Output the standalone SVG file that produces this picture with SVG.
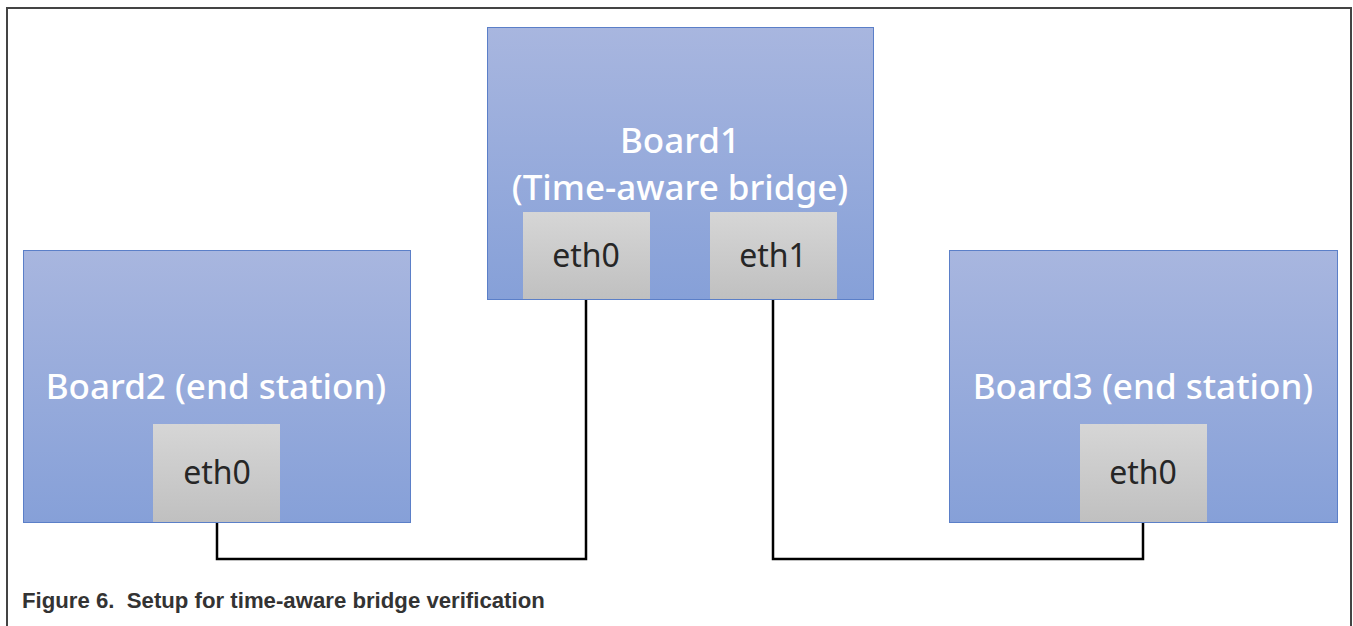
<svg xmlns="http://www.w3.org/2000/svg" width="1353" height="626" viewBox="0 0 1353 626">
<defs>
<linearGradient id="gb" x1="0" y1="0" x2="0" y2="1"><stop offset="0" stop-color="#a8b6df"/><stop offset="1" stop-color="#86a0d8"/></linearGradient>
<linearGradient id="gp" x1="0" y1="0" x2="0" y2="1"><stop offset="0" stop-color="#d6d6d6"/><stop offset="1" stop-color="#c0c0c0"/></linearGradient>
<style>
.board{fill:url(#gb);stroke:#5b7fc8;stroke-width:1}
.port{fill:url(#gp);stroke:none}
.bt{font-family:"Noto Sans","Open Sans",sans-serif;font-size:35px;font-weight:500;fill:#ffffff;text-anchor:middle}
.pt{font-family:"Noto Sans","Open Sans",sans-serif;font-size:32px;fill:#262626;text-anchor:middle}
.wire{fill:none;stroke:#000;stroke-width:2.5}
.cap{font-family:"Liberation Sans",Arial,sans-serif;font-size:22.2px;font-weight:bold;fill:#333}
</style>
</defs>
<rect width="1353" height="626" fill="#fff"/>
<path d="M7 630 V8 H1351 V630" fill="none" stroke="#444" stroke-width="2"/>
<g id="connectors">
<path class="wire" d="M217 522 V559 H586 V299"/>
<path class="wire" d="M773 299 V559 H1143 V522"/>
</g>
<g id="board1">
<rect class="board" x="487.5" y="27.5" width="386" height="272"/>
<text class="bt" x="680" y="153">Board1</text>
<text class="bt" x="680" y="200">(Time-aware bridge)</text>
</g>
<g id="board1-eth0">
<rect class="port" x="523" y="212" width="127" height="87"/>
<text class="pt" x="586" y="267">eth0</text>
</g>
<g id="board1-eth1">
<rect class="port" x="710" y="212" width="127" height="87"/>
<text class="pt" x="773" y="267">eth1</text>
</g>
<g id="board2">
<rect class="board" x="23.5" y="250.5" width="387" height="272"/>
<text class="bt" x="216" y="399">Board2 (end station)</text>
</g>
<g id="board2-eth0">
<rect class="port" x="153" y="424" width="127" height="98"/>
<text class="pt" x="217" y="484">eth0</text>
</g>
<g id="board3">
<rect class="board" x="949.5" y="250.5" width="388" height="272"/>
<text class="bt" x="1143" y="399">Board3 (end station)</text>
</g>
<g id="board3-eth0">
<rect class="port" x="1080" y="424" width="127" height="98"/>
<text class="pt" x="1143" y="484">eth0</text>
</g>
<text class="cap" x="22" y="608" xml:space="preserve">Figure 6.  Setup for time-aware bridge verification</text>
</svg>
